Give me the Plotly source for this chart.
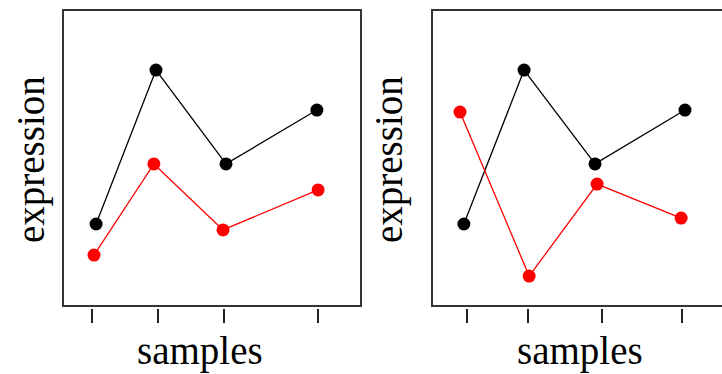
import plotly.graph_objects as go

# ---- data ----
# panel 1
p1_tick_x = [0.97, 3.19, 5.40, 8.56]
p1_black_x = [1.11, 3.12, 5.47, 8.52]
p1_black_y = [2.77, 7.97, 4.80, 6.62]
p1_red_x = [1.04, 3.05, 5.37, 8.56]
p1_red_y = [1.72, 4.80, 2.57, 3.92]
# panel 2
p2_tick_x = [1.17, 3.22, 5.70, 8.39]
p2_black_x = [1.07, 3.09, 5.47, 8.49]
p2_black_y = [2.77, 7.97, 4.80, 6.62]
p2_red_x = [0.94, 3.26, 5.54, 8.36]
p2_red_y = [6.55, 1.01, 4.12, 2.97]

x_label = "samples"
y_label = "expression"

W, H = 722, 374
FONT = "Liberation Serif, Times New Roman, serif"

def px_x(p):
    return p / W

def px_y(p):
    return (H - p) / H

fig = go.Figure()

def add_series(x, y, color, xa, ya):
    fig.add_trace(go.Scatter(
        x=x, y=y, mode="lines+markers", xaxis=xa, yaxis=ya,
        line=dict(color=color, width=1.3),
        marker=dict(color=color, size=13),
        showlegend=False, hoverinfo="skip"))

add_series(p1_black_x, p1_black_y, "black", "x", "y")
add_series(p1_red_x, p1_red_y, "#ff0000", "x", "y")
add_series(p2_black_x, p2_black_y, "black", "x2", "y2")
add_series(p2_red_x, p2_red_y, "#ff0000", "x2", "y2")

ydom = [px_y(306), px_y(10)]
tick_pos = px_y(308)

xcommon = dict(showgrid=False, zeroline=False, showline=False,
               showticklabels=False, ticks="outside", ticklen=14,
               tickwidth=2, tickcolor="#222", anchor="free",
               position=tick_pos, tickmode="array")
ycommon = dict(showgrid=False, zeroline=False, showline=False,
               showticklabels=False, ticks="", range=[0, 10], domain=ydom)

fig.update_layout(
    width=W, height=H,
    margin=dict(l=0, r=0, t=0, b=0),
    paper_bgcolor="white", plot_bgcolor="white",
    xaxis=dict(**xcommon, domain=[px_x(63), px_x(361)], range=[0, 10],
               tickvals=p1_tick_x),
    xaxis2=dict(**xcommon, domain=[px_x(432), 1.0], range=[0, 290 / 29.8],
                tickvals=p2_tick_x),
    yaxis=dict(**ycommon, anchor="x"),
    yaxis2=dict(**ycommon, anchor="x2"),
)

# frames
line_style = dict(color="#333", width=2)
fig.add_shape(type="rect", xref="x domain", yref="y domain",
              x0=0, x1=1, y0=0, y1=1, line=line_style, layer="below")
fig.add_shape(type="rect", xref="x2 domain", yref="y2 domain",
              x0=0, x1=1.2, y0=0, y1=1, line=line_style, layer="below")

# labels
for cx in (200, 580):
    fig.add_annotation(x=px_x(cx), y=px_y(351), xref="paper", yref="paper",
                       text=x_label, showarrow=False, xanchor="center",
                       yanchor="middle",
                       font=dict(family=FONT, size=39, color="black"))
for cx in (31, 389):
    fig.add_annotation(x=px_x(cx), y=px_y(160), xref="paper", yref="paper",
                       text=y_label, showarrow=False, textangle=-90,
                       xanchor="center", yanchor="middle",
                       font=dict(family=FONT, size=39, color="black"))

fig.write_html("out.html")
